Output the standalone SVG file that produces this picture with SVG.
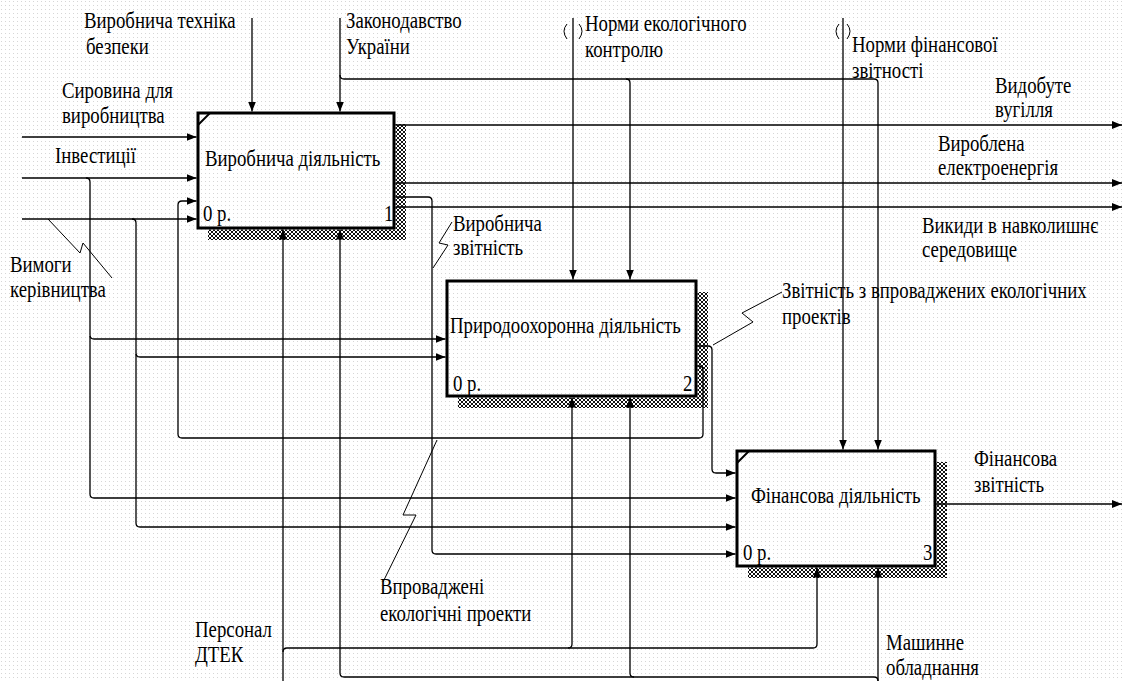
<svg xmlns="http://www.w3.org/2000/svg" width="1124" height="681" viewBox="0 0 1124 681">
<defs>
<pattern id="dots" width="4" height="4" patternUnits="userSpaceOnUse"><rect width="4" height="4" fill="#fff"/><rect x="1" y="1" width="1" height="1" fill="#d6d6d6"/></pattern>
<pattern id="hatch" width="4" height="4" patternUnits="userSpaceOnUse"><rect width="4" height="4" fill="#fff"/><path d="M0,0 L4,4 M4,0 L0,4" stroke="#111" stroke-width="1"/></pattern>
<marker id="ah" viewBox="0 0 10 8" refX="10" refY="4" markerWidth="10" markerHeight="8" markerUnits="userSpaceOnUse" orient="auto"><path d="M0,0 L10,4 L0,8 z" fill="#000"/></marker>
</defs>
<style>
.ln{fill:none;stroke:#000;stroke-width:1.3}
.ar{marker-end:url(#ah)}
.box{fill:none;stroke:#000;stroke-width:3}
.sh{fill:url(#hatch);stroke:none}
.sq{fill:none;stroke:#000;stroke-width:1}
.t{font-family:"Liberation Serif","Times New Roman",serif;font-size:18.8px;fill:#000}
</style>
<rect width="1124" height="681" fill="url(#dots)"/>

<g id="node1">
<rect class="sh" x="395.5" y="124" width="10.5" height="116"/>
<rect class="sh" x="208" y="229.5" width="198" height="10.5"/>
<rect class="box" x="198" y="113" width="196" height="115"/>
<path d="M198,125 L210,113" stroke="#000" stroke-width="2"/>
<text class="t" transform="translate(205 166) scale(1 1.25)">Виробнича діяльність</text>
<text class="t" transform="translate(203 221) scale(1 1.25)">0 р.</text>
<text class="t" transform="translate(384 221) scale(1 1.25)">1</text>
</g>

<g id="node2">
<rect class="sh" x="697.5" y="292" width="10.5" height="116"/>
<rect class="sh" x="458" y="397.5" width="250" height="10.5"/>
<rect class="box" x="447" y="281" width="249" height="115"/>
<text class="t" transform="translate(450 333) scale(1 1.25)">Природоохоронна діяльність</text>
<text class="t" transform="translate(453 391) scale(1 1.25)">0 р.</text>
<text class="t" transform="translate(683 391) scale(1 1.25)">2</text>
</g>

<g id="node3">
<rect class="sh" x="936.5" y="462" width="10.5" height="116"/>
<rect class="sh" x="748" y="567.5" width="199" height="10.5"/>
<rect class="box" x="737" y="451" width="198" height="115"/>
<path d="M737,463 L749,451" stroke="#000" stroke-width="2"/>
<text class="t" transform="translate(751 503) scale(1 1.25)">Фінансова діяльність</text>
<text class="t" transform="translate(743 560) scale(1 1.25)">0 р.</text>
<text class="t" transform="translate(923 560) scale(1 1.25)">3</text>
</g>

<g id="connectors">
<path class="ln ar" d="M22,137 H196.5"/>
<path class="ln ar" d="M22,178 H196.5"/>
<path class="ln ar" d="M86,178 Q90,178 90,182 V335 Q90,339 94,339 H445.5"/>
<path class="ln ar" d="M90,336 V494 Q90,498 94,498 H735.5"/>
<path class="ln ar" d="M22,219 H196.5"/>
<path class="ln ar" d="M132,219 Q136,219 136,223 V353 Q136,357 140,357 H445.5"/>
<path class="ln ar" d="M136,354 V523 Q136,527 140,527 H735.5"/>
<path class="ln ar" d="M697.5,366 H699 Q703,366 703,370 V434 Q703,438 699,438 H182 Q178,438 178,434 V205 Q178,201 182,201 H196.5"/>
<path class="ln ar" d="M697.5,346 H708 Q712,346 712,350 V469 Q712,473 716,473 H735.5"/>
<path class="ln ar" d="M395.5,125 H1122"/>
<path class="ln ar" d="M395.5,183 H1122"/>
<path class="ln ar" d="M395.5,207 H1122"/>
<path class="ln ar" d="M395.5,197 H428 Q432,197 432,201 V550 Q432,554 436,554 H735.5"/>
<path class="ln ar" d="M936.5,504 H1122"/>
<path class="ln ar" d="M252,18 V111.5"/>
<path class="ln ar" d="M340,18 V111.5"/>
<path class="ln ar" d="M340,75 Q340,79 344,79 H874 Q878,79 878,83 V449.5"/>
<path class="ln ar" d="M626,79 Q630,79 630,83 V279.5"/>
<path class="ln ar" d="M573,18 V279.5"/>
<path class="ln ar" d="M843,18 V449.5"/>
<path class="ln ar" d="M283,681 V229.5"/>
<path class="ln ar" d="M283,652 Q283,648 287,648 H568 Q572,648 572,644 V397.5"/>
<path class="ln ar" d="M568,648 H813 Q817,648 817,644 V567.5"/>
<path class="ln ar" d="M878,681 V567.5"/>
<path class="ln ar" d="M878,681 Q878,677 874,677 H634 Q630,677 630,673 V397.5"/>
<path class="ln ar" d="M634,677 H344 Q340,677 340,673 V229.5"/>
<path class="sq" d="M48,219 L80,253 L83,243 L112,278"/>
<path class="sq" d="M433,268 L448,245 L439,243 L452,222"/>
<path class="sq" d="M713,345 L753,322 L742,313 L782,292"/>
<path class="sq" d="M437,440 L403,515 L416,515 L383,582"/>
<path class="sq" d="M567,24 Q561,31 567,39 M579,24 Q585,31 579,39"/>
<path class="sq" d="M839,24 Q833,31 839,39 M847,24 Q853,31 847,39"/>
</g>

<g id="labels">
<text class="t" transform="translate(84 28) scale(1 1.25)">Виробнича техніка</text>
<text class="t" transform="translate(86 54) scale(1 1.25)">безпеки</text>
<text class="t" transform="translate(346 28) scale(1 1.25)">Законодавство</text>
<text class="t" transform="translate(346 54) scale(1 1.25)">України</text>
<text class="t" transform="translate(585 31) scale(1 1.25)">Норми екологічного</text>
<text class="t" transform="translate(585 57) scale(1 1.25)">контролю</text>
<text class="t" transform="translate(852 52) scale(1 1.25)">Норми фінансової</text>
<text class="t" transform="translate(852 78) scale(1 1.25)">звітності</text>
<text class="t" transform="translate(62 98) scale(1 1.25)">Сировина для</text>
<text class="t" transform="translate(62 123) scale(1 1.25)">виробництва</text>
<text class="t" transform="translate(55 163) scale(1 1.25)">Інвестиції</text>
<text class="t" transform="translate(10 272) scale(1 1.25)">Вимоги</text>
<text class="t" transform="translate(10 297) scale(1 1.25)">керівництва</text>
<text class="t" transform="translate(995 93) scale(1 1.25)">Видобуте</text>
<text class="t" transform="translate(995 117) scale(1 1.25)">вугілля</text>
<text class="t" transform="translate(938 151) scale(1 1.25)">Вироблена</text>
<text class="t" transform="translate(938 175) scale(1 1.25)">електроенергія</text>
<text class="t" transform="translate(922 233) scale(1 1.25)">Викиди в навколишнє</text>
<text class="t" transform="translate(922 257) scale(1 1.25)">середовище</text>
<text class="t" transform="translate(453 231) scale(1 1.25)">Виробнича</text>
<text class="t" transform="translate(453 255) scale(1 1.25)">звітність</text>
<text class="t" transform="translate(782 298) scale(1 1.25)">Звітність з впроваджених екологічних</text>
<text class="t" transform="translate(782 324) scale(1 1.25)">проектів</text>
<text class="t" transform="translate(974 466) scale(1 1.25)">Фінансова</text>
<text class="t" transform="translate(974 492) scale(1 1.25)">звітність</text>
<text class="t" transform="translate(380 594) scale(1 1.25)">Впроваджені</text>
<text class="t" transform="translate(380 621) scale(1 1.25)">екологічні проекти</text>
<text class="t" transform="translate(195 637) scale(1 1.25)">Персонал</text>
<text class="t" transform="translate(195 662) scale(1 1.25)">ДТЕК</text>
<text class="t" transform="translate(886 650) scale(1 1.25)">Машинне</text>
<text class="t" transform="translate(886 675) scale(1 1.25)">обладнання</text>
</g>
</svg>
